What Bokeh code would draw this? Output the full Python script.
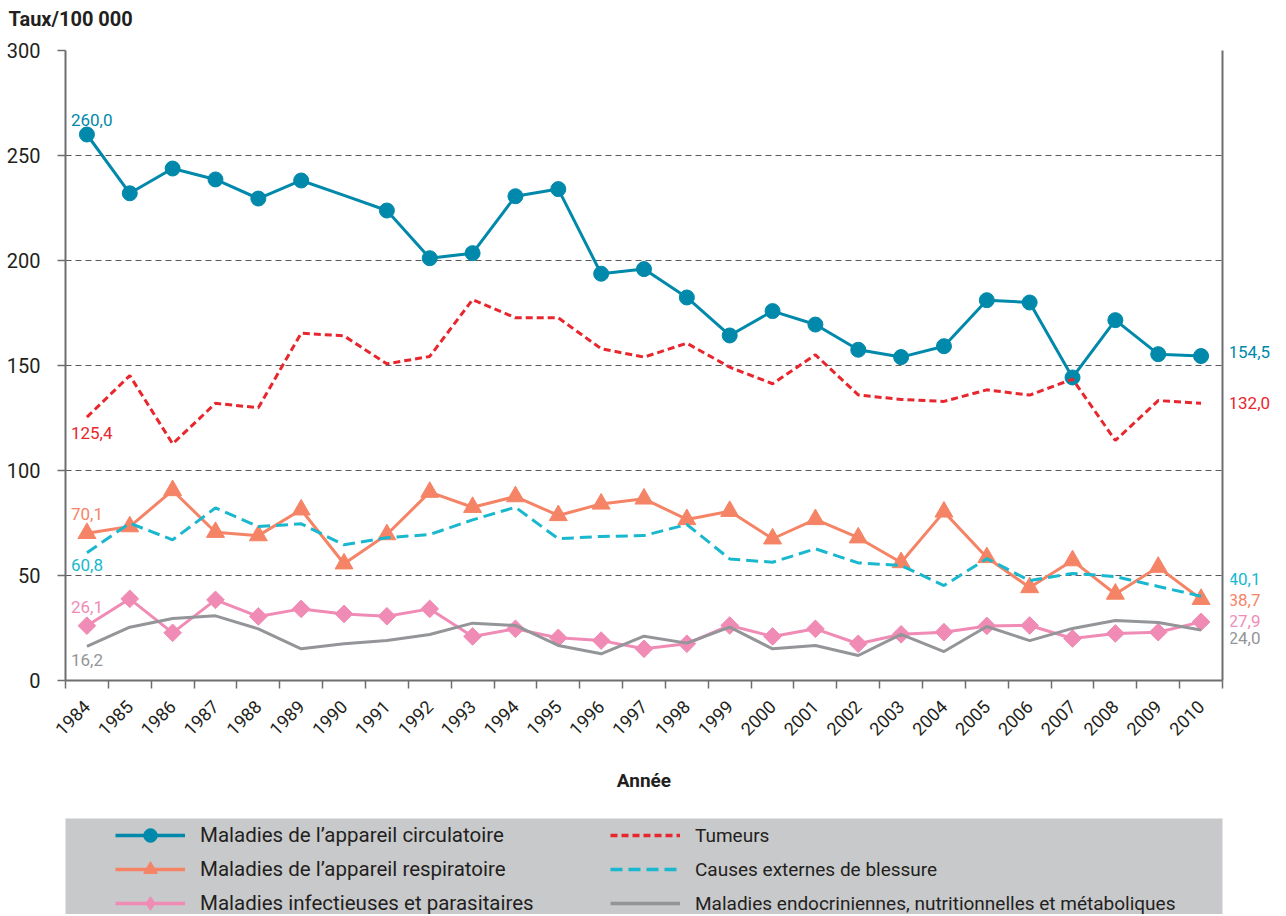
import math
from bokeh.plotting import figure
from bokeh.models import Range1d, FixedTicker, LinearAxis, Label, Legend, LegendItem
from bokeh.layouts import column, row
from bokeh.embed import file_html
from bokeh.resources import INLINE

FONT = "Roboto"
TXT = "#231f20"

years = [str(y) for y in range(1984, 2011)]
circulatoire = [260.0, 232.0, 243.8, 238.6, 229.5, 238.1, 231.0, 223.8, 201.1, 203.5, 230.6, 234.0, 193.7, 195.9,
                182.4, 164.3, 175.9, 169.5, 157.5, 154.0, 159.2, 181.1, 180.0, 144.3, 171.6, 155.4, 154.5]
circ_no_marker = ["1990"]
tumeurs = [125.4, 145.2, 112.7, 132.0, 129.9, 165.4, 164.1, 150.8, 154.3, 181.4, 172.7, 172.7, 158.0, 154.0,
           160.6, 149.2, 141.3, 155.1, 136.0, 133.8, 132.9, 138.4, 135.9, 143.5, 114.3, 133.3, 132.0]
respiratoire = [70.1, 73.3, 90.5, 70.6, 69.0, 81.3, 55.6, 69.5, 89.7, 82.5, 87.6, 78.6, 84.1, 86.5,
                76.7, 80.6, 67.5, 76.7, 68.0, 56.2, 80.3, 58.6, 44.3, 57.1, 41.2, 54.0, 38.7]
externes = [60.8, 74.9, 67.0, 82.2, 73.3, 74.6, 64.6, 68.0, 69.5, 76.5, 82.5, 67.5, 68.6, 69.0,
            74.3, 57.9, 56.3, 62.7, 56.0, 54.8, 45.2, 58.0, 47.6, 51.0, 49.5, 44.8, 40.1]
infectieuses = [26.1, 38.9, 22.7, 38.4, 30.5, 34.1, 31.7, 30.6, 34.1, 21.0, 24.6, 20.3, 19.0, 15.1,
                17.5, 26.2, 21.0, 24.6, 17.5, 22.0, 23.0, 26.0, 26.2, 20.0, 22.4, 23.0, 27.9]
endocrine = [16.2, 25.4, 29.5, 30.8, 24.6, 15.1, 17.5, 19.0, 21.9, 27.3, 26.2, 16.7, 12.7, 21.1,
             17.8, 25.4, 15.1, 16.7, 11.9, 22.0, 13.8, 25.7, 19.0, 24.8, 28.6, 27.6, 24.0]
y_ticks = [0, 50, 100, 150, 200, 250, 300]
title_text = "Taux/100 000"

series = [
    # name, values, color, dash, marker, size, angle
    ("Maladies de l’appareil circulatoire", circulatoire, "#0089aa", "solid", "circle", 15, 0),
    ("Tumeurs", tumeurs, "#e8262d", "7 4", None, 0, 0),
    ("Maladies de l’appareil respiratoire", respiratoire, "#f58466", "solid", "triangle", 18, 0),
    ("Causes externes de blessure", externes, "#19b8ce", "12 6", None, 0, 0),
    ("Maladies infectieuses et parasitaires", infectieuses, "#f08bb5", "solid", "square", 12.5, math.pi / 4),
    ("Maladies endocriniennes, nutritionnelles et métaboliques", endocrine, "#939598", "solid", None, 0, 0),
]

xs = list(range(len(years)))
H_TITLE = 30
H_MAIN = 788
B_TOP, B_BOT = 20, 138
y_range = Range1d(0, 300)

# title strip
pt = figure(width=1286, height=H_TITLE, x_range=Range1d(0, 1286), y_range=Range1d(0, H_TITLE),
            output_backend="svg", toolbar_location=None,
            min_border_left=0, min_border_right=0, min_border_top=0, min_border_bottom=0,
            x_axis_location=None, y_axis_location=None)
pt.frame_align = False
pt.outline_line_color = None
pt.grid.visible = False
pt.add_layout(Label(x=8, y=H_TITLE - 18, text=title_text, text_align="left", text_baseline="middle",
                    text_font=FONT, text_font_size="20px", text_font_style="bold", text_color=TXT))

p = figure(width=1230, height=H_MAIN, x_range=Range1d(-0.5, len(years) - 0.5), y_range=y_range,
           output_backend="svg", toolbar_location=None,
           min_border_left=65, min_border_right=8, min_border_top=B_TOP, min_border_bottom=B_BOT)
p.outline_line_color = None

# axes / grid
p.xgrid.visible = False
p.ygrid.ticker = FixedTicker(ticks=y_ticks)
p.ygrid.grid_line_color = "#58595b"
p.ygrid.grid_line_dash = "6 4"
p.ygrid.grid_line_width = 1

xa = p.xaxis[0]
xa.ticker = FixedTicker(ticks=xs, minor_ticks=[i - 0.5 for i in range(len(years) + 1)])
xa.major_label_overrides = {i: years[i] for i in xs}
xa.major_tick_out = 0
xa.major_tick_in = 0
xa.minor_tick_out = 8
xa.minor_tick_in = 0
xa.minor_tick_line_color = "#6d6e70"
xa.minor_tick_line_width = 1.5
xa.axis_line_color = "#6d6e70"
xa.axis_line_width = 2
xa.major_label_orientation = math.pi / 4
xa.major_label_standoff = 15
xa.major_label_text_font = FONT
xa.major_label_text_font_size = "18px"
xa.major_label_text_color = TXT
xa.axis_label = "Année"
xa.axis_label_text_font = FONT
xa.axis_label_text_font_size = "19px"
xa.axis_label_text_font_style = "bold"
xa.axis_label_text_color = TXT
xa.axis_label_standoff = 25

ya = p.yaxis[0]
ya.ticker = FixedTicker(ticks=y_ticks)
ya.major_tick_out = 8
ya.major_tick_in = 0
ya.minor_tick_out = 0
ya.minor_tick_in = 0
ya.major_tick_line_color = "#6d6e70"
ya.major_tick_line_width = 1.5
ya.axis_line_color = "#6d6e70"
ya.axis_line_width = 2
ya.major_label_standoff = 17
ya.major_label_text_font = FONT
ya.major_label_text_font_size = "20px"
ya.major_label_text_color = TXT

ra = LinearAxis(ticker=FixedTicker(ticks=[]), axis_line_color="#6d6e70", axis_line_width=2,
                major_label_text_font_size="0px", major_tick_out=0, minor_tick_out=0,
                major_label_standoff=0)
p.add_layout(ra, "right")

# series
for name, vals, color, dash, marker, size, ang in series:
    p.line(xs, vals, line_color=color, line_width=3, line_dash=dash)
    if marker:
        skip = circ_no_marker if vals is circulatoire else []
        mx = [x for x in xs if years[x] not in skip]
        my = [vals[x] for x in mx]
        p.scatter(mx, my, marker=marker, size=size, angle=ang, fill_color=color, line_color=color)

def fmt(v):
    return f"{v:.1f}".replace(".", ",")

first_pos = {
    "Maladies de l’appareil circulatoire": ("bottom", 9),
    "Tumeurs": ("top", -10),
    "Maladies de l’appareil respiratoire": ("bottom", 13),
    "Causes externes de blessure": ("top", -6),
    "Maladies infectieuses et parasitaires": ("bottom", 13),
    "Maladies endocriniennes, nutritionnelles et métaboliques": ("top", -8),
}
last_off = {
    "Maladies de l’appareil circulatoire": 4,
    "Tumeurs": 0,
    "Maladies de l’appareil respiratoire": -1,
    "Causes externes de blessure": 17,
    "Maladies infectieuses et parasitaires": 1,
    "Maladies endocriniennes, nutritionnelles et métaboliques": -8,
}
for name, vals, color, dash, marker, size, ang in series:
    base, yo = first_pos[name]
    p.add_layout(Label(x=xs[0], y=vals[0], text=fmt(vals[0]), x_offset=-16, y_offset=yo,
                       text_align="left", text_baseline=base, text_font=FONT,
                       text_font_size="17px", text_color=color))

# right-hand value labels (separate narrow panel sharing the y scale)
pr = figure(width=56, height=H_MAIN, x_range=Range1d(0, 1), y_range=y_range,
            output_backend="svg", toolbar_location=None,
            min_border_left=0, min_border_right=0, min_border_top=B_TOP, min_border_bottom=B_BOT,
            x_axis_location=None, y_axis_location=None)
pr.outline_line_color = None
pr.grid.visible = False
for name, vals, color, dash, marker, size, ang in series:
    pr.add_layout(Label(x=0, y=vals[-1], text=fmt(vals[-1]), x_offset=-2, y_offset=last_off[name],
                        text_align="left", text_baseline="middle", text_font=FONT,
                        text_font_size="17px", text_color=color))

# legend panel
p2 = figure(width=1230, height=96, x_range=Range1d(0, 1), y_range=Range1d(0, 1),
            output_backend="svg", toolbar_location=None,
            min_border_left=65, min_border_right=8, min_border_top=0, min_border_bottom=0,
            x_axis_location=None, y_axis_location=None)
p2.background_fill_color = "#c8c9cb"
p2.border_fill_color = "white"
p2.outline_line_color = None
p2.grid.visible = False

legend_marker = {"circle": ("circle", 15), "triangle": ("triangle", 18), "square": ("diamond", 24)}
items = []
for name, vals, color, dash, marker, size, ang in series:
    rs = [p2.line(x=[-5, -4], y=[-5, -4], line_color=color, line_width=3.5, line_dash=dash)]
    if marker:
        lm, ls = legend_marker[marker]
        rs.append(p2.scatter(x=[-5], y=[-5], marker=lm, size=ls, fill_color=color, line_color=color))
    items.append(LegendItem(label=name, renderers=rs))

left_items = [items[0], items[2], items[4]]
right_items = [items[1], items[3], items[5]]
for its, lx, fs in ((left_items, 50, "20.5px"), (right_items, 545, "19px")):
    lg = Legend(items=its, location=(lx, -6), orientation="vertical",
                glyph_width=70, glyph_height=34, label_height=34, label_standoff=15,
                spacing=0, padding=0, margin=0, background_fill_alpha=0,
                border_line_color=None, label_text_font=FONT, label_text_font_size=fs,
                label_text_color=TXT)
    p2.add_layout(lg, "center")

layout = column(pt, row(p, pr, spacing=0), p2, spacing=0)
open("out.html", "w").write(file_html(layout, INLINE))
